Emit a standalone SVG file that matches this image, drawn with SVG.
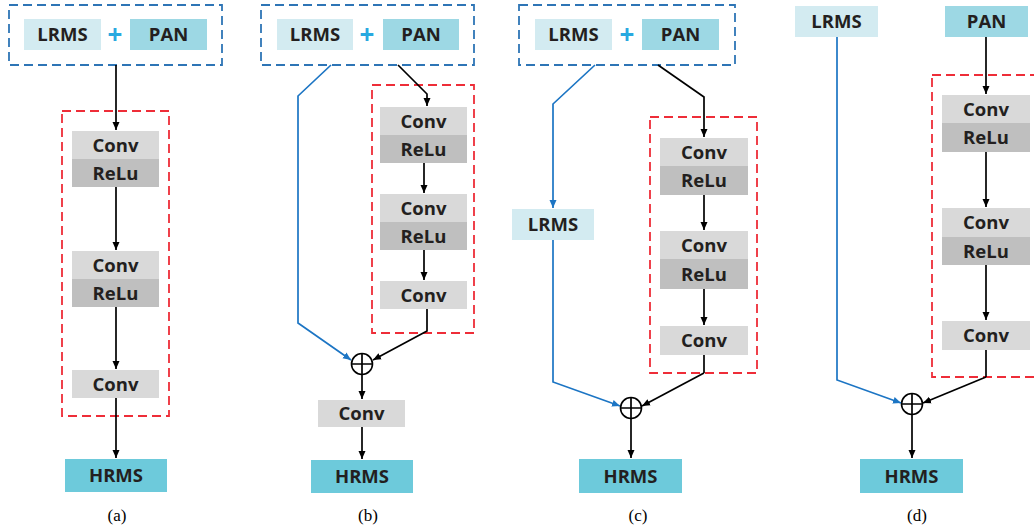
<svg xmlns="http://www.w3.org/2000/svg" width="1034" height="531" viewBox="0 0 1034 531">
<style>
.t{font-family:"Open Sans","Liberation Sans",sans-serif;font-weight:700;font-size:18.5px;fill:#231f20;text-anchor:middle}
.cap{font-family:"Liberation Serif",serif;font-size:17px;fill:#000;text-anchor:middle}
.lr{fill:#d3ebf1}.pan{fill:#9dd8e4}.hr{fill:#6dcadb}.conv{fill:#d9d9d9}.relu{fill:#bfbfbf}
.bd{fill:none;stroke:#2e75b6;stroke-width:1.8;stroke-dasharray:9 5}
.rd{fill:none;stroke:#ee2d38;stroke-width:1.8;stroke-dasharray:9 5}
.k{fill:none;stroke:#000;stroke-width:1.7;marker-end:url(#ak)}
.kn{fill:none;stroke:#000;stroke-width:1.7}
.b{fill:none;stroke:#1c75c4;stroke-width:1.7;marker-end:url(#ab)}
.bn{fill:none;stroke:#1c75c4;stroke-width:1.7}
.plus{font-family:"Open Sans","Liberation Sans",sans-serif;font-weight:700;font-size:26px;fill:#29a9e0;text-anchor:middle}
.sum{fill:#fff;stroke:#000;stroke-width:1.6}
</style>
<defs>
<marker id="ak" markerUnits="userSpaceOnUse" markerWidth="8" markerHeight="8" refX="8" refY="4" orient="auto"><path d="M0,0.5 L8,4 L0,7.5 z" fill="#000"/></marker>
<marker id="ab" markerUnits="userSpaceOnUse" markerWidth="8" markerHeight="8" refX="8" refY="4" orient="auto"><path d="M0,0.5 L8,4 L0,7.5 z" fill="#1c75c4"/></marker>
</defs>

<!-- Panel (a) -->
<g id="a-input">
<rect class="bd" x="9" y="5" width="213" height="60"/>
<rect class="lr" x="24" y="19" width="77" height="31"/><text class="t" x="62.5" y="41">LRMS</text>
<text class="plus" x="115" y="44">+</text>
<rect class="pan" x="130" y="19" width="77" height="31"/><text class="t" x="168.5" y="41">PAN</text>
</g>
<g id="a-block"><rect class="rd" x="62" y="111" width="107" height="305"/></g>
<g id="a-cr1"><rect class="conv" x="72" y="131" width="87" height="28"/><text class="t" x="115.5" y="151.5">Conv</text>
<rect class="relu" x="72" y="159" width="87" height="28"/><text class="t" x="115.5" y="179.5">ReLu</text></g>
<g id="a-cr2"><rect class="conv" x="72" y="251" width="87" height="28"/><text class="t" x="115.5" y="271.5">Conv</text>
<rect class="relu" x="72" y="279" width="87" height="28"/><text class="t" x="115.5" y="299.5">ReLu</text></g>
<g id="a-conv3"><rect class="conv" x="72" y="370" width="87" height="28"/><text class="t" x="115.5" y="390.5">Conv</text></g>
<g id="a-hrms"><rect class="hr" x="65" y="459" width="102" height="33"/><text class="t" x="116" y="482">HRMS</text></g>
<text class="cap" x="117" y="521">(a)</text>

<!-- Panel (b) -->
<g id="b-input">
<rect class="bd" x="261" y="5" width="213" height="60"/>
<rect class="lr" x="277" y="19" width="76" height="31"/><text class="t" x="315" y="41">LRMS</text>
<text class="plus" x="367" y="44">+</text>
<rect class="pan" x="383" y="19" width="76" height="31"/><text class="t" x="421" y="41">PAN</text>
</g>
<g id="b-block"><rect class="rd" x="372" y="85" width="102" height="248"/></g>
<g id="b-cr1"><rect class="conv" x="380" y="107" width="87" height="28"/><text class="t" x="423.5" y="127.5">Conv</text>
<rect class="relu" x="380" y="135" width="87" height="28"/><text class="t" x="423.5" y="155.5">ReLu</text></g>
<g id="b-cr2"><rect class="conv" x="380" y="194" width="87" height="28"/><text class="t" x="423.5" y="214.5">Conv</text>
<rect class="relu" x="380" y="222" width="87" height="28"/><text class="t" x="423.5" y="242.5">ReLu</text></g>
<g id="b-conv3"><rect class="conv" x="380" y="281" width="87" height="28"/><text class="t" x="423.5" y="301.5">Conv</text></g>
<g id="b-sum"><circle class="sum" cx="362" cy="364" r="10.5"/><path class="kn" d="M351.5,364 H372.5 M362,353.5 V374.5"/></g>
<g id="b-conv4"><rect class="conv" x="318" y="400" width="87" height="27"/><text class="t" x="361.5" y="420">Conv</text></g>
<g id="b-hrms"><rect class="hr" x="311" y="460" width="102" height="33"/><text class="t" x="362" y="483">HRMS</text></g>
<text class="cap" x="368" y="521">(b)</text>

<!-- Panel (c) -->
<g id="c-input">
<rect class="bd" x="519" y="5" width="216" height="60"/>
<rect class="lr" x="535" y="19" width="77" height="31"/><text class="t" x="573.5" y="41">LRMS</text>
<text class="plus" x="627" y="44">+</text>
<rect class="pan" x="642" y="19" width="77" height="31"/><text class="t" x="680.5" y="41">PAN</text>
</g>
<g id="c-lrms"><rect class="lr" x="512" y="209" width="82" height="31"/><text class="t" x="553" y="231">LRMS</text></g>
<g id="c-block"><rect class="rd" x="650" y="117" width="107" height="256"/></g>
<g id="c-cr1"><rect class="conv" x="660" y="138" width="88" height="28"/><text class="t" x="704" y="158.5">Conv</text>
<rect class="relu" x="660" y="166" width="88" height="29"/><text class="t" x="704" y="187">ReLu</text></g>
<g id="c-cr2"><rect class="conv" x="660" y="231" width="88" height="28"/><text class="t" x="704" y="251.5">Conv</text>
<rect class="relu" x="660" y="259" width="88" height="30"/><text class="t" x="704" y="280.5">ReLu</text></g>
<g id="c-conv3"><rect class="conv" x="660" y="326" width="88" height="29"/><text class="t" x="704" y="347">Conv</text></g>
<g id="c-sum"><circle class="sum" cx="631" cy="408" r="10.5"/><path class="kn" d="M620.5,408 H641.5 M631,397.5 V418.5"/></g>
<g id="c-hrms"><rect class="hr" x="579" y="459" width="103" height="34"/><text class="t" x="630.5" y="482.5">HRMS</text></g>
<text class="cap" x="638" y="521">(c)</text>

<!-- Panel (d) -->
<g id="d-lrms"><rect class="lr" x="795" y="6" width="83" height="31"/><text class="t" x="836.5" y="28">LRMS</text></g>
<g id="d-pan"><rect class="pan" x="945" y="6" width="83" height="31"/><text class="t" x="986.5" y="28">PAN</text></g>
<g id="d-block"><rect class="rd" x="932" y="75" width="110" height="302"/></g>
<g id="d-cr1"><rect class="conv" x="942" y="95" width="88" height="28"/><text class="t" x="986" y="115.5">Conv</text>
<rect class="relu" x="942" y="123" width="88" height="29"/><text class="t" x="986" y="144">ReLu</text></g>
<g id="d-cr2"><rect class="conv" x="942" y="208" width="88" height="29"/><text class="t" x="986" y="229">Conv</text>
<rect class="relu" x="942" y="237" width="88" height="28"/><text class="t" x="986" y="257.5">ReLu</text></g>
<g id="d-conv3"><rect class="conv" x="942" y="321" width="88" height="29"/><text class="t" x="986" y="342">Conv</text></g>
<g id="d-sum"><circle class="sum" cx="912" cy="404" r="10.5"/><path class="kn" d="M901.5,404 H922.5 M912,393.5 V414.5"/></g>
<g id="d-hrms"><rect class="hr" x="860" y="459" width="103" height="34"/><text class="t" x="911.5" y="482.5">HRMS</text></g>
<text class="cap" x="917" y="521">(d)</text>

<g id="connectors">
<!-- a -->
<path class="k" d="M116,65 V130"/>
<path class="k" d="M116,187 V250"/>
<path class="k" d="M116,307 V369"/>
<path class="k" d="M116,398 V458"/>
<!-- b -->
<path class="b" d="M331,65 L298,96 V323 L351,360"/>
<path class="k" d="M398,65 L427,94 V106"/>
<path class="k" d="M424,163 V193"/>
<path class="k" d="M424,250 V280"/>
<path class="k" d="M427,309 V331 L373,360"/>
<path class="k" d="M362,374.5 V399"/>
<path class="k" d="M362,427 V459"/>
<!-- c -->
<path class="b" d="M595,65 L553,104 V208"/>
<path class="b" d="M553,240 V382 L620,406"/>
<path class="k" d="M658,65 L704,97 V137"/>
<path class="k" d="M704,195 V230"/>
<path class="k" d="M704,289 V325"/>
<path class="kn" d="M704,355 V373"/>
<path class="k" d="M704,373 L642,406"/>
<path class="k" d="M631,418.5 V458"/>
<!-- d -->
<path class="b" d="M837,37 V380 L901,403"/>
<path class="k" d="M986,37 V94"/>
<path class="k" d="M986,152 V207"/>
<path class="k" d="M986,265 V320"/>
<path class="kn" d="M986,350 V377"/>
<path class="k" d="M986,377 L923,403"/>
<path class="k" d="M912,414.5 V458"/>
</g>
</svg>
